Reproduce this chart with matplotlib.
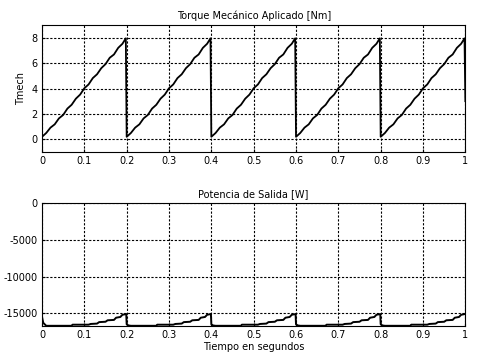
import matplotlib
matplotlib.use('Agg')
import matplotlib.pyplot as plt
import numpy as np

# periodo de la rampa de torque
period_starts = [0.0, 0.2, 0.4, 0.6, 0.8]

ramp_t = [0.0, 0.01, 0.02, 0.03, 0.04, 0.05, 0.06, 0.07, 0.08, 0.09, 0.10,
          0.11, 0.12, 0.13, 0.14, 0.15, 0.16, 0.17, 0.18, 0.19, 0.198]
ramp_tq = [0.2, 0.5, 0.92, 1.18, 1.65, 1.92, 2.42, 2.72, 3.2, 3.52, 4.02,
           4.32, 4.82, 5.12, 5.6, 5.92, 6.42, 6.68, 7.2, 7.52, 7.95]

power_t = [0.0, 0.004, 0.01, 0.07, 0.072, 0.11, 0.115, 0.13, 0.135, 0.15,
           0.155, 0.17, 0.175, 0.185, 0.19, 0.199]
power_w = [-16500, -16650, -16700, -16700, -16550, -16550, -16450, -16400,
           -16200, -16150, -15950, -15900, -15600, -15500, -15200, -15100]

first_t = [0.0, 0.0, 0.003]
first_w = [-13000, -15500, -16300]

t_end = 1.0
tq_end = 3.0

t1, y1 = [], []
t2, y2 = list(first_t), list(first_w)
for k, s in enumerate(period_starts):
    t1 += [s + x for x in ramp_t]
    y1 += ramp_tq
    pt = power_t if k > 0 else power_t[2:]
    pw = power_w if k > 0 else power_w[2:]
    t2 += [s + x for x in pt]
    y2 += pw
t1 += [t_end]
y1 += [tq_end]

plt.rcParams['font.family'] = 'DejaVu Sans'
fig = plt.figure(figsize=(4.8, 3.62), dpi=100)
ax1 = fig.add_axes([0.0875, 0.58, 0.882, 0.351])
ax2 = fig.add_axes([0.0875, 0.099, 0.882, 0.34])

for ax in (ax1, ax2):
    ax.set_xlim(0, 1)
    ax.set_xticks(np.arange(0, 1.01, 0.1))
    ax.set_xticklabels(['0', '0.1', '0.2', '0.3', '0.4', '0.5', '0.6', '0.7', '0.8', '0.9', '1'])
    ax.grid(True, color='black', linestyle=(0, (2, 1.5)), linewidth=0.8)
    ax.tick_params(labelsize=7, length=2, direction='in', pad=3)
    for sp in ax.spines.values():
        sp.set_linewidth(0.8)

ax1.plot(t1, y1, color='black', linewidth=1.3)
ax1.set_ylim(-1, 9)
ax1.set_yticks([0, 2, 4, 6, 8])
ax1.set_title('Torque Mecánico Aplicado [Nm]', fontsize=7, pad=4)
ax1.set_ylabel('Tmech', fontsize=7, labelpad=4)

ax2.plot(t2, y2, color='black', linewidth=1.4)
ax2.set_ylim(-16750, 0)
ax2.set_yticks([0, -5000, -10000, -15000])
ax2.set_yticklabels(['0', '-5000', '-10000', '-15000'])
ax2.set_title('Potencia de Salida [W]', fontsize=7, pad=4)
ax2.set_xlabel('Tiempo en segundos', fontsize=7, labelpad=1)

fig.savefig('out.png', dpi=100)
